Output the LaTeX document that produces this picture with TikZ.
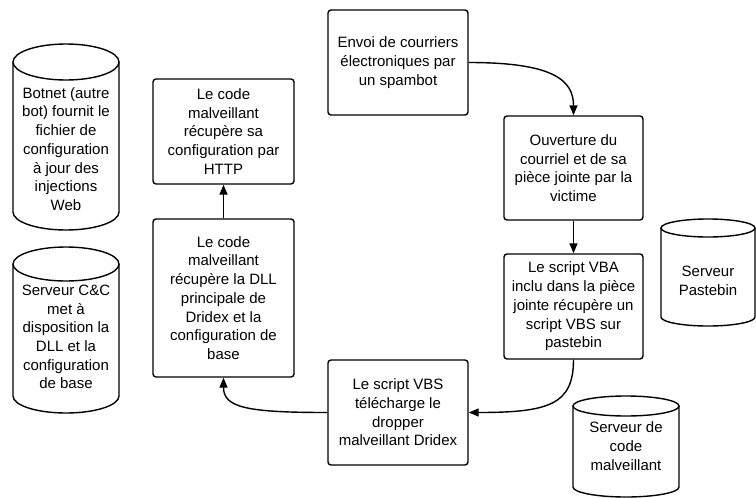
\documentclass[tikz,border=0pt]{standalone}
\usepackage{fontspec}
\setmainfont{Liberation Sans}
\usetikzlibrary{arrows.meta}
\newcommand\cylshape[5]{%
  \pgfmathsetmacro\cylcx{(#1+#2)/2}%
  \pgfmathsetmacro\cylrx{(#2-#1)/2}%
  \draw[shapeline] (\cylcx,-#3-#5) ellipse[x radius=\cylrx, y radius=#5];
  \draw[shapeline] (#1,-#3-#5) -- (#1,-#4+#5) arc[start angle=180,end angle=360,x radius=\cylrx,y radius=#5] -- (#2,-#3-#5);
}
\begin{document}
\begin{tikzpicture}[x=1pt,y=1pt,
  shapeline/.style={line width=1.4pt, draw=black},
  stepbox/.style={draw=black, line width=1.4pt, rounded corners=3pt, fill=white,
    align=center, inner sep=0pt, font=\fontsize{15}{18.7}\selectfont},
  cyltext/.style={align=center, inner sep=0pt, font=\fontsize{15}{18.7}\selectfont},
  arr/.style={line width=1.4pt, -{Triangle[length=10pt,width=8pt]}}]
\useasboundingbox (0,0) rectangle (756,-498);

% cylinders
\cylshape{13}{119}{44}{230}{18}
\cylshape{13}{119}{247}{413}{17}
\cylshape{661}{755}{219}{326}{9}
\cylshape{573}{679}{396}{497}{10}

\node[cyltext] (botnet) at (66,-149) {Botnet (autre\\bot) fournit le\\fichier de\\configuration\\à jour des\\injections\\Web};
\node[cyltext] (cc) at (66,-337) {Serveur C\&C\\met à\\disposition la\\DLL et la\\configuration\\de base};
\node[cyltext] (pastebin) at (708,-281) {Serveur\\Pastebin};
\node[cyltext] (codesrv) at (626,-446) {Serveur de\\code\\malveillant};

% boxes
\node[stepbox, minimum width=140pt, minimum height=105pt] (envoi) at (398,-62.5)
  {Envoi de courriers\\électroniques par\\un spambot};
\node[stepbox, minimum width=139pt, minimum height=104pt] (ouv) at (573.5,-168)
  {Ouverture du\\courriel et de sa\\pièce jointe par la\\victime};
\node[stepbox, minimum width=139pt, minimum height=105pt] (vba) at (573.5,-306.5)
  {Le script VBA\\inclu dans la pièce\\jointe récupère un\\script VBS sur\\pastebin};
\node[stepbox, minimum width=140pt, minimum height=105pt] (vbs) at (398,-412.5)
  {Le script VBS\\télécharge le\\dropper\\malveillant Dridex};
\node[stepbox, minimum width=141pt, minimum height=105pt] (http) at (223.5,-131.5)
  {Le code\\malveillant\\récupère sa\\configuration par\\HTTP};
\node[stepbox, minimum width=141pt, minimum height=158pt] (dll) at (223.5,-298)
  {Le code\\malveillant\\récupère la DLL\\principale de\\Dridex et la\\configuration de\\base};

% connectors
\draw[arr] (envoi.east) .. controls +(85,0) and +(0,35) .. (ouv.north);
\draw[arr] (ouv.south) -- (vba.north);
\draw[arr] (vba.south) .. controls +(0,-45) and +(80,0) .. (vbs.east);
\draw[arr] (vbs.west) .. controls +(-80,0) and +(0,-30) .. (dll.south);
\draw[arr] (dll.north) -- (http.south);
\end{tikzpicture}
\end{document}
